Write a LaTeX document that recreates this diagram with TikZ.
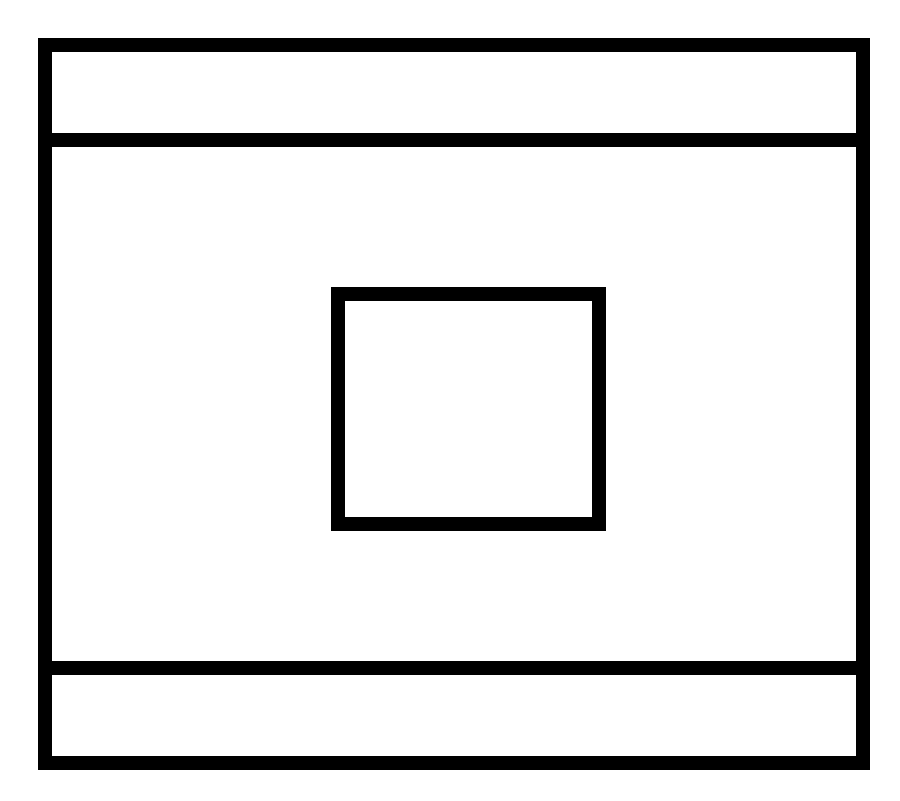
\documentclass[tikz,border=0pt]{standalone}

\tikzset{trait/.style = {line width = 1.4mm, draw = black, line join = miter},
         cadre/.style = {trait, fill = white}
        }

\begin{document}
\begin{tikzpicture}[x=0.01cm, y=-0.01cm]
  \useasboundingbox (0,0) rectangle (900,801);
  % cadre exterieur
  \draw[cadre] (45,45) rectangle (863,763);
  % bandes haut et bas
  \draw[trait] (45,140) -- (863,140);
  \draw[trait] (45,668) -- (863,668);
  % carre central
  \draw[trait] (338,294) rectangle (599,524);
\end{tikzpicture}
\end{document}
